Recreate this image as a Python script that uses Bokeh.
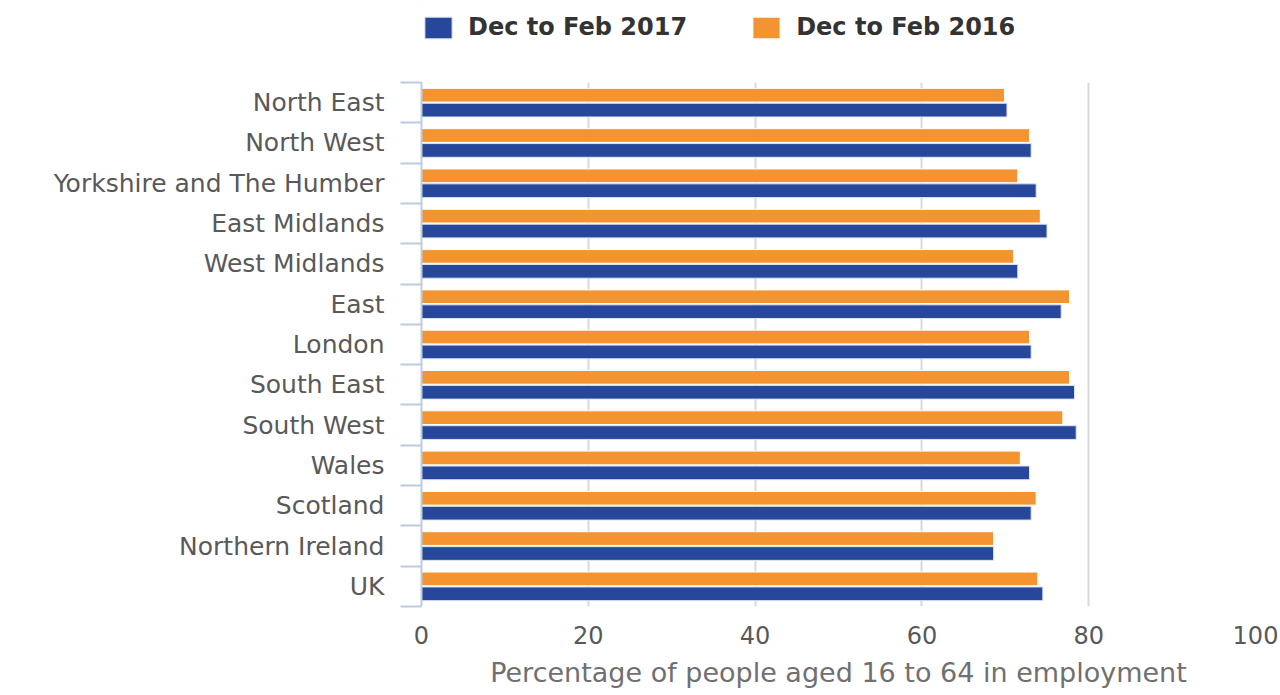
from bokeh.plotting import figure
from bokeh.layouts import column
from bokeh.models import (ColumnDataSource, Range1d, LinearAxis,
                          FixedTicker, Legend, LegendItem)
from bokeh.transform import dodge
from bokeh.embed import file_html
from bokeh.resources import INLINE

regions = ["North East", "North West", "Yorkshire and The Humber", "East Midlands",
           "West Midlands", "East", "London", "South East", "South West", "Wales",
           "Scotland", "Northern Ireland", "UK"]
emp_2017 = [70.2, 73.1, 73.7, 75.0, 71.5, 76.7, 73.1, 78.3, 78.5, 72.9, 73.1, 68.6, 74.5]
emp_2016 = [69.9, 72.9, 71.5, 74.2, 71.0, 77.7, 72.9, 77.7, 76.9, 71.8, 73.7, 68.6, 73.9]
series_names = ["Dec to Feb 2017", "Dec to Feb 2016"]
x_ticks = [0, 20, 40, 60, 80, 100]
x_title = "Percentage of people aged 16 to 64 in employment"

BLUE = "#27489a"
ORANGE = "#f39431"
FONT = "DejaVu Sans"

n = len(regions)
# each category occupies 2 units; first region at the top
centers = [2 * (n - 1 - i) + 1 for i in range(n)]
bounds = list(range(0, 2 * n + 1, 2))

src = ColumnDataSource(dict(region=regions, pos=centers, v17=emp_2017, v16=emp_2016))

# ---------------- legend strip (same frame edges as the chart) ----------------
pl = figure(width=1280, height=60, x_range=Range1d(1000, 1001), y_range=Range1d(-10, -9),
            output_backend="svg", toolbar_location=None,
            x_axis_location=None, y_axis_location=None,
            min_border_left=421, min_border_right=25, min_border_top=0,
            min_border_bottom=0)
pl.outline_line_color = None
pl.xgrid.grid_line_color = None
pl.ygrid.grid_line_color = None
lr17 = pl.hbar(y="pos", right="v17", left=0, height=1, fill_color=BLUE,
               line_color="#dde3f0", source=src)
lr16 = pl.hbar(y="pos", right="v16", left=0, height=1, fill_color=ORANGE,
               line_color="white", source=src)
legend = Legend(items=[LegendItem(label=series_names[0], renderers=[lr17]),
                       LegendItem(label=series_names[1], renderers=[lr16])],
                orientation="horizontal", location=(0, 19),
                glyph_width=34, glyph_height=27, label_standoff=13, spacing=62,
                padding=5, margin=0, border_line_color=None,
                background_fill_alpha=0,
                label_text_font=FONT, label_text_font_size="24px",
                label_text_font_style="bold", label_text_color="#333333")
pl.add_layout(legend, "center")

# ---------------- main chart ----------------
p = figure(width=1280, height=635,
           y_range=Range1d(0, 2 * n),
           x_range=Range1d(0, 100),
           output_backend="svg", toolbar_location=None,
           y_axis_location=None,
           min_border_left=421, min_border_top=22, min_border_bottom=89,
           min_border_right=25)
p.outline_line_color = None
p.background_fill_color = "white"

# category-boundary tick axis (inner)
tick_axis = LinearAxis(ticker=FixedTicker(ticks=bounds),
                       major_tick_out=21, major_tick_in=0,
                       minor_tick_line_color=None,
                       axis_line_color="#bccbde", axis_line_width=2,
                       major_tick_line_color="#bccbde", major_tick_line_width=2,
                       major_label_text_font_size="0px", major_label_text_alpha=0,
                       major_label_standoff=0)
p.add_layout(tick_axis, "left")

cat_axis = LinearAxis(ticker=FixedTicker(ticks=centers),
                      major_label_overrides={c: r for c, r in zip(centers, regions)},
                      major_tick_line_color=None, minor_tick_line_color=None,
                      axis_line_color=None,
                      major_label_text_font=FONT,
                      major_label_text_font_size="25px",
                      major_label_text_color="#595959",
                      major_label_standoff=10)
p.add_layout(cat_axis, "left")

r16 = p.hbar(y=dodge("pos", 0.37), right="v16", left=0,
             height=0.68, fill_color=ORANGE, line_color="white", line_width=1,
             source=src)
r17 = p.hbar(y=dodge("pos", -0.37), right="v17", left=0,
             height=0.68, fill_color=BLUE, line_color="#dde3f0", line_width=1,
             source=src)

xa = p.xaxis[0]
xa.ticker = FixedTicker(ticks=x_ticks)
xa.axis_line_color = None
xa.major_tick_line_color = None
xa.minor_tick_line_color = None
xa.major_label_text_font = FONT
xa.major_label_text_font_size = "24px"
xa.major_label_text_color = "#595959"
xa.major_label_standoff = 13
xa.axis_label = x_title
xa.axis_label_text_font = FONT
xa.axis_label_text_font_size = "27px"
xa.axis_label_text_font_style = "normal"
xa.axis_label_text_color = "#707070"
xa.axis_label_standoff = 10

p.xgrid.grid_line_color = "#d9d9d9"
p.xgrid.grid_line_width = 2
p.ygrid.grid_line_color = None

layout = column(pl, p, spacing=0)
open("out.html", "w").write(file_html(layout, INLINE))
